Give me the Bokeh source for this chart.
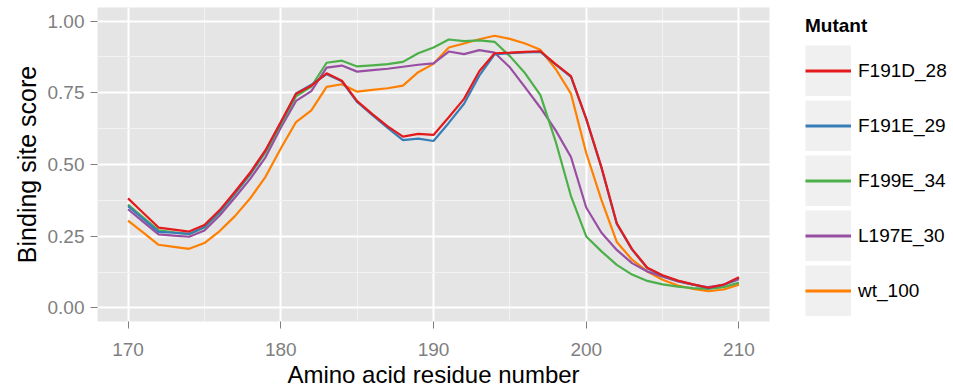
from bokeh.plotting import figure
from bokeh.layouts import row
from bokeh.models import (Legend, LegendItem, ColumnDataSource, FixedTicker,
                          SingleIntervalTicker)
from bokeh.embed import file_html
from bokeh.resources import INLINE

# Residue positions along the binding site
residues = list(range(170, 211))

# Binding site score per mutant, one value per residue (170..210)
f191d_28 = [0.382, 0.331, 0.280, 0.273, 0.266, 0.289, 0.341, 0.405, 0.472, 0.550,
            0.648, 0.747, 0.775, 0.818, 0.792, 0.721, 0.676, 0.633, 0.597, 0.607,
            0.603, 0.665, 0.729, 0.825, 0.888, 0.890, 0.893, 0.895, 0.850, 0.808,
            0.660, 0.490, 0.295, 0.205, 0.140, 0.114, 0.095, 0.082, 0.070, 0.081,
            0.107]
f191e_29 = [0.355, 0.310, 0.265, 0.262, 0.258, 0.282, 0.335, 0.400, 0.468, 0.548,
            0.645, 0.748, 0.778, 0.815, 0.790, 0.718, 0.672, 0.628, 0.585, 0.590,
            0.582, 0.645, 0.712, 0.810, 0.884, 0.888, 0.891, 0.893, 0.848, 0.806,
            0.658, 0.488, 0.293, 0.203, 0.138, 0.112, 0.094, 0.081, 0.069, 0.080,
            0.105]
f199e_34 = [0.360, 0.315, 0.270, 0.263, 0.257, 0.280, 0.333, 0.398, 0.465, 0.542,
            0.640, 0.738, 0.772, 0.855, 0.862, 0.842, 0.846, 0.850, 0.858, 0.888,
            0.908, 0.936, 0.930, 0.933, 0.928, 0.878, 0.818, 0.742, 0.580, 0.390,
            0.249, 0.197, 0.150, 0.116, 0.094, 0.082, 0.074, 0.069, 0.066, 0.072,
            0.088]
l197e_30 = [0.344, 0.300, 0.256, 0.252, 0.248, 0.270, 0.322, 0.385, 0.450, 0.525,
            0.628, 0.722, 0.756, 0.838, 0.845, 0.824, 0.829, 0.834, 0.841, 0.848,
            0.853, 0.894, 0.885, 0.899, 0.890, 0.839, 0.769, 0.698, 0.619, 0.526,
            0.350, 0.262, 0.202, 0.156, 0.127, 0.109, 0.092, 0.081, 0.072, 0.080,
            0.100]
wt_100 = [0.304, 0.262, 0.220, 0.213, 0.206, 0.226, 0.268, 0.320, 0.382, 0.457,
          0.556, 0.648, 0.689, 0.771, 0.780, 0.754, 0.760, 0.766, 0.775, 0.822,
          0.851, 0.908, 0.922, 0.937, 0.949, 0.938, 0.922, 0.900, 0.833, 0.747,
          0.540, 0.376, 0.230, 0.168, 0.127, 0.098, 0.078, 0.066, 0.058, 0.064,
          0.081]

mutants = ["F191D_28", "F191E_29", "F199E_34", "L197E_30", "wt_100"]
series = [f191d_28, f191e_29, f199e_34, l197e_30, wt_100]
colors = ["#E41A1C", "#377EB8", "#4DAF4A", "#984EA3", "#FF7F00"]

y_ticks = [0.0, 0.25, 0.5, 0.75, 1.0]
y_tick_labels = {0.0: "0.00", 0.25: "0.25", 0.5: "0.50", 0.75: "0.75", 1.0: "1.00"}

FONT = "Liberation Sans"

sources = {name: ColumnDataSource(dict(x=residues, y=vals))
           for name, vals in zip(mutants, series)}

# ---- main panel -----------------------------------------------------------
p = figure(width=790, height=390, x_range=(168, 212), y_range=(-0.0476, 1.0476),
           output_backend="svg", toolbar_location=None,
           min_border_left=97, min_border_right=21, min_border_top=7,
           min_border_bottom=68)

p.background_fill_color = "#E5E5E5"
p.border_fill_color = "white"
p.outline_line_color = None

# ggplot-style grid: white major lines, faint minor lines
for grid in (p.xgrid, p.ygrid):
    grid.grid_line_color = "white"
    grid.grid_line_width = 2
    grid.minor_grid_line_color = "#F2F2F2"
    grid.minor_grid_line_width = 1

p.xaxis.ticker = SingleIntervalTicker(interval=10, num_minor_ticks=2)
p.yaxis.ticker = FixedTicker(ticks=y_ticks,
                             minor_ticks=[0.125, 0.375, 0.625, 0.875])
p.yaxis.major_label_overrides = y_tick_labels

for ax in (p.xaxis, p.yaxis):
    ax.axis_line_color = None
    ax.major_tick_line_color = "#7F7F7F"
    ax.major_tick_line_width = 1
    ax.major_tick_out = 7
    ax.major_tick_in = 0
    ax.minor_tick_line_color = None
    ax.major_label_text_font = FONT
    ax.major_label_text_font_size = "19px"
    ax.major_label_text_color = "#7F7F7F"
    ax.axis_label_text_font = FONT
    ax.axis_label_text_font_style = "normal"
    ax.axis_label_text_color = "black"

p.xaxis.axis_label = "Amino acid residue number"
p.xaxis.axis_label_text_font_size = "24px"
p.xaxis.major_label_standoff = 14
p.xaxis.axis_label_standoff = 2
p.yaxis.axis_label = "Binding site score"
p.yaxis.axis_label_text_font_size = "25px"
p.yaxis.major_label_standoff = 6
p.yaxis.axis_label_standoff = 4

# draw in reverse so the first mutant sits on top
for name, col in reversed(list(zip(mutants, colors))):
    p.line("x", "y", source=sources[name], line_color=col, line_width=2.2)

# ---- legend panel ---------------------------------------------------------
lg = figure(width=163, height=390, x_range=(0, 1), y_range=(0, 1),
            output_backend="svg", toolbar_location=None,
            x_axis_type=None, y_axis_type=None,
            min_border_left=0, min_border_right=0, min_border_top=0,
            min_border_bottom=0)
lg.grid.visible = False
lg.outline_line_color = None
lg.background_fill_color = "white"

items = []
for name, col in zip(mutants, colors):
    # key background: a wide grey stroke filling the legend key box
    key_bg = lg.line(x=[5, 6], y=[5, 5], line_color="#F0F0F0", line_width=51,
                     line_cap="butt")
    # legend proxy of the series line, sharing its data (outside this view)
    key_line = lg.line("x", "y", source=sources[name], line_color=col,
                       line_width=3)
    items.append(LegendItem(label=name, renderers=[key_bg, key_line]))

legend = Legend(items=items, location=(15, 5),
                title="Mutant", title_text_font=FONT, title_text_font_size="19px",
                title_text_font_style="bold", title_text_color="black",
                title_standoff=8,
                label_text_font=FONT, label_text_font_size="19px",
                label_text_color="black", label_standoff=7,
                glyph_width=46, glyph_height=51, label_height=51, spacing=4,
                padding=0, margin=0,
                background_fill_alpha=0, border_line_alpha=0)
lg.add_layout(legend)

layout = row(p, lg, spacing=0)

open("out.html", "w").write(file_html(layout, INLINE))
